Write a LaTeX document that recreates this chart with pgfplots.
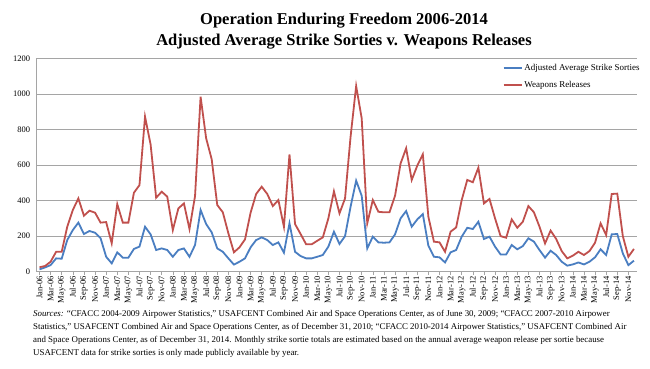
\documentclass[border=0pt]{standalone}
\usepackage{pgfplots}
\usepackage{pgfplotstable}
\pgfplotsset{compat=1.18}
\usepackage{fontspec}
\setmainfont{Liberation Serif}
\definecolor{ablue}{RGB}{74,126,193}
\definecolor{ared}{RGB}{192,80,77}
\definecolor{gridgray}{RGB}{165,165,165}

\pgfplotstableread{
m s w
0 13 25
1 24 32
2 37 56
3 75 112
4 73 112
5 178 253
6 234 347
7 276 412
8 212 315
9 229 343
10 219 332
11 188 276
12 84 279
13 47 160
14 109 380
15 79 276
16 79 276
17 128 444
18 141 487
19 253 872
20 210 716
21 122 416
22 131 450
23 122 422
24 84 234
25 122 356
26 131 384
27 84 240
28 150 425
29 347 984
30 268 750
31 221 632
32 131 375
33 112 334
34 75 216
35 40 109
36 56 137
37 75 182
38 137 332
39 178 437
40 193 478
41 178 437
42 150 369
43 165 403
44 107 253
45 272 660
46 112 268
47 88 212
48 75 154
49 75 154
50 84 174
51 94 193
52 141 300
53 225 452
54 156 328
55 200 412
56 366 760
57 512 1044
58 427 862
59 131 272
60 197 403
61 165 337
62 163 334
63 165 334
64 210 427
65 300 609
66 341 694
67 253 516
68 294 596
69 324 660
70 146 309
71 84 169
72 81 165
73 52 112
74 109 225
75 122 249
76 197 403
77 247 516
78 240 503
79 281 585
80 184 384
81 197 409
82 141 300
83 97 200
84 97 191
85 150 294
86 126 247
87 144 281
88 188 369
89 169 334
90 122 253
91 79 159
92 118 231
93 94 184
94 56 116
95 34 75
96 41 90
97 52 112
98 41 94
99 56 116
100 81 163
101 126 272
102 94 206
103 210 437
104 212 439
105 103 200
106 37 84
107 62 128
}\data

\begin{document}
\begin{tikzpicture}[x=1bp,y=1bp]
\useasboundingbox (0,0) rectangle (650,368);
\node[font=\fontsize{16.6}{18}\selectfont\bfseries, anchor=base, inner sep=0] at (344,368-24) {Operation Enduring Freedom 2006-2014};
\node[font=\fontsize{16.6}{18}\selectfont\bfseries, anchor=base, inner sep=0] at (344,368-45) {Adjusted Average Strike Sorties v. Weapons Releases};
\begin{axis}[
  at={(36.7bp,96.3bp)}, anchor=south west,
  scale only axis, width=600bp, height=213.4bp,
  xmin=-0.5, xmax=107.5, ymin=0, ymax=1200,
  ytick={0,200,...,1200},
  ymajorgrids, grid style={gridgray, line width=0.6pt},
  axis x line*=bottom, axis y line*=left,
  axis line style={gridgray, line width=0.6pt},
  xtick={0,2,...,106},
  xticklabels={Jan-06,Mar-06,May-06,Jul-06,Sep-06,Nov-06,Jan-07,Mar-07,May-07,Jul-07,Sep-07,Nov-07,Jan-08,Mar-08,May-08,Jul-08,Sep-08,Nov-08,Jan-09,Mar-09,May-09,Jul-09,Sep-09,Nov-09,Jan-10,Mar-10,May-10,Jul-10,Sep-10,Nov-10,Jan-11,Mar-11,May-11,Jul-11,Sep-11,Nov-11,Jan-12,Mar-12,May-12,Jul-12,Sep-12,Nov-12,Jan-13,Mar-13,May-13,Jul-13,Sep-13,Nov-13,Jan-14,Mar-14,May-14,Jul-14,Sep-14,Nov-14},
  x tick label style={rotate=90, anchor=east, font=\fontsize{8.5}{9}\selectfont, inner sep=1.5bp},
  y tick label style={font=\fontsize{8.5}{9}\selectfont},
  /pgf/number format/assume math mode=true,
  /pgf/number format/1000 sep={},
  tick align=outside, major tick length=3bp,
  xtick style={gridgray, line width=0.6pt},
  ytick style={draw=none},
  legend style={at={(1,1)}, anchor=north east, xshift=6bp, yshift=-3bp, draw=none, fill=none,
    font=\fontsize{9}{10}\selectfont, row sep=5bp, inner sep=1bp},
  legend cell align=left,
  legend image code/.code={\draw[#1] (0bp,0bp) -- (18bp,0bp);},
]
\addplot[ablue, line width=1.8bp] table[x=m, y=s] {\data};
\addlegendentry{Adjusted Average Strike Sorties}
\addplot[ared, line width=1.8bp] table[x=m, y=w] {\data};
\addlegendentry{Weapons Releases}
\end{axis}
\begin{scope}[every node/.style={anchor=base west, inner sep=0, font=\fontsize{8.9}{10}\selectfont}]
\node at (33,368-316) {\textit{Sources:} “CFACC 2004-2009 Airpower Statistics,” USAFCENT Combined Air and Space Operations Center, as of June 30, 2009; “CFACC 2007-2010 Airpower};
\node at (33,368-329) {Statistics,” USAFCENT Combined Air and Space Operations Center, as of December 31, 2010; “CFACC 2010-2014 Airpower Statistics,” USAFCENT Combined Air};
\node at (33,368-342) {and Space Operations Center, as of December 31, 2014. Monthly strike sortie totals are estimated based on the annual average weapon release per sortie because};
\node at (33,368-355) {USAFCENT data for strike sorties is only made publicly available by year.};
\end{scope}
\end{tikzpicture}
\end{document}
